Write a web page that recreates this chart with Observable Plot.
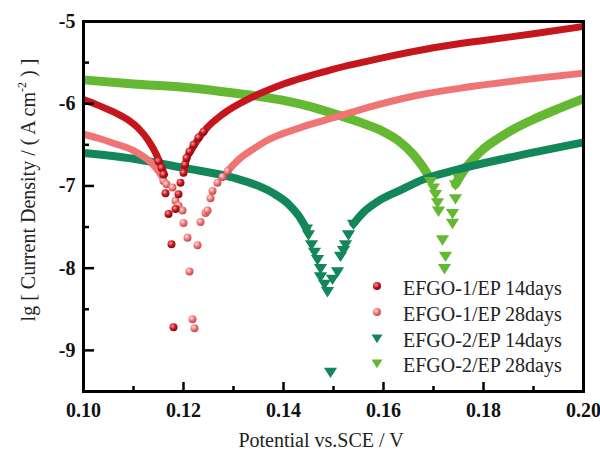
<!DOCTYPE html>
<html><head><meta charset="utf-8">
<script src="https://cdn.jsdelivr.net/npm/d3@7"></script>
<script src="https://cdn.jsdelivr.net/npm/@observablehq/plot@0.6"></script>
<style>
body{margin:0;background:#fff}
#chart{width:600px;height:457px}
svg text{font-family:"Liberation Serif","Times New Roman",serif;}
</style></head><body><div id="chart"></div>
<script>
// ---- tick values ----
const xMajor = [0.10, 0.12, 0.14, 0.16, 0.18, 0.20];
const xMinor = [0.11, 0.13, 0.15, 0.17, 0.19];
const yMajor = [-5, -6, -7, -8, -9];
const yMinor = [-5.5, -6.5, -7.5, -8.5];

// ---- series names & colours ----
const seriesNames = ["EFGO-1/EP 14days", "EFGO-1/EP 28days", "EFGO-2/EP 14days", "EFGO-2/EP 28days"];
const seriesColors = ["#c6161d", "#f07474", "#13875a", "#64b832"];

// ---- EFGO-1/EP 14days  [V, lg i] ----
const a14Left  = [[0.100,-5.95],[0.103,-6.02],[0.106,-6.10],[0.109,-6.20],[0.111,-6.30],[0.113,-6.45],[0.1146,-6.62],[0.1158,-6.80],[0.1162,-6.86]];
const a14Dip   = [[0.1150,-6.70],[0.1156,-6.78],[0.1160,-6.86],[0.1164,-7.09],[0.1170,-7.34],[0.1176,-7.71],[0.1180,-8.72],[0.1184,-7.28],[0.1190,-7.10],[0.1194,-6.96],[0.1200,-6.84],[0.1203,-6.74],[0.1206,-6.66],[0.1212,-6.58],[0.1220,-6.50],[0.1230,-6.41],[0.1240,-6.34]];
const a14Right = [[0.1200,-6.84],[0.1206,-6.68],[0.1216,-6.56],[0.1226,-6.46],[0.1246,-6.30],[0.128,-6.12],[0.1334,-5.93],[0.140,-5.76],[0.150,-5.58],[0.160,-5.44],[0.170,-5.32],[0.180,-5.23],[0.190,-5.15],[0.200,-5.06]];

// ---- EFGO-1/EP 28days ----
const a28Left  = [[0.100,-6.37],[0.103,-6.42],[0.106,-6.48],[0.110,-6.57],[0.1134,-6.71],[0.115,-6.82],[0.116,-6.92]];
const a28Dip   = [[0.1160,-6.94],[0.1166,-6.98],[0.1178,-7.02],[0.1184,-7.18],[0.1190,-7.24],[0.1198,-7.30],[0.1200,-7.45],[0.1208,-7.63],[0.1212,-8.04],[0.1218,-8.62],[0.1222,-8.73],[0.1228,-7.72],[0.1234,-7.44],[0.1244,-7.33],[0.1248,-7.30],[0.1254,-7.15],[0.1258,-7.06],[0.1268,-6.96],[0.1278,-6.89],[0.1288,-6.82]];
const a28Right = [[0.1288,-6.82],[0.1314,-6.66],[0.134,-6.55],[0.1366,-6.45],[0.1434,-6.29],[0.150,-6.17],[0.1566,-6.05],[0.1666,-5.90],[0.1766,-5.80],[0.1866,-5.72],[0.200,-5.63]];

// ---- EFGO-2/EP 14days ----
const b14Left  = [[0.100,-6.60],[0.110,-6.67],[0.120,-6.78],[0.130,-6.90],[0.135,-7.00],[0.138,-7.09],[0.141,-7.22],[0.143,-7.36],[0.1446,-7.52]];
const b14Dip   = [[0.1446,-7.52],[0.1450,-7.59],[0.1456,-7.71],[0.1462,-7.80],[0.1468,-7.89],[0.1474,-8.00],[0.1474,-8.10],[0.1482,-8.19],[0.1488,-8.28],[0.1494,-9.26],[0.1498,-8.13],[0.1508,-8.04],[0.1514,-7.85],[0.1520,-7.78],[0.1524,-7.71],[0.1530,-7.59],[0.1540,-7.46]];
const b14Right = [[0.1540,-7.46],[0.1560,-7.32],[0.1588,-7.19],[0.1634,-7.05],[0.168,-6.92],[0.1748,-6.80],[0.1848,-6.66],[0.200,-6.47]];

// ---- EFGO-2/EP 28days ----
const b28Left  = [[0.100,-5.71],[0.110,-5.76],[0.120,-5.80],[0.130,-5.87],[0.140,-5.96],[0.145,-6.03],[0.150,-6.12],[0.155,-6.22],[0.160,-6.34],[0.163,-6.45],[0.166,-6.62],[0.168,-6.78],[0.1694,-6.92]];
const b28Dip   = [[0.1694,-6.94],[0.1700,-7.02],[0.1704,-7.10],[0.1708,-7.20],[0.1710,-7.30],[0.1718,-7.65],[0.1724,-7.85],[0.1722,-8.00],[0.1738,-7.45],[0.1738,-7.33],[0.1744,-7.15],[0.1744,-6.98],[0.1750,-6.90]];
const b28Right = [[0.1744,-6.98],[0.176,-6.82],[0.178,-6.67],[0.180,-6.55],[0.183,-6.42],[0.186,-6.31],[0.190,-6.19],[0.195,-6.06],[0.200,-5.94]];

const downTriangle = {
  draw(ctx, size) {
    const s = Math.sqrt(size) * 0.62;
    ctx.moveTo(-s, -s * 0.62);
    ctx.lineTo(s, -s * 0.62);
    ctx.lineTo(0, s * 0.95);
    ctx.closePath();
  }
};

const W = 600, H = 457;
const FONT = "'Liberation Serif','Times New Roman',serif";
const lineOpts = (c, w) => ({x: d => d[0], y: d => d[1], stroke: c, strokeWidth: w, curve: "monotone-x", strokeLinecap: "round", clip: true});
const ball = (fill) => ({x: d => d[0], y: d => d[1], r: 4, fill, stroke: "none"});
const tri = (c) => ({x: d => d[0], y: d => d[1], r: 6, symbol: downTriangle, fill: c, stroke: "none"});

const chart = Plot.plot({
  width: W, height: H,
  marginLeft: 83, marginRight: 17, marginTop: 21, marginBottom: 66,
  x: {domain: [0.10, 0.20]},
  y: {domain: [-9.5, -5]},
  style: {fontFamily: FONT, background: "#fff"},
  marks: [
    Plot.line(b28Left, lineOpts(seriesColors[3], 9)),
    Plot.line(b28Right, lineOpts(seriesColors[3], 9)),
    Plot.line(b14Left, lineOpts(seriesColors[2], 8)),
    Plot.line(b14Right, lineOpts(seriesColors[2], 8)),
    Plot.line(a28Left, lineOpts(seriesColors[1], 7)),
    Plot.line(a28Right, lineOpts(seriesColors[1], 7)),
    Plot.line(a14Left, lineOpts(seriesColors[0], 7)),
    Plot.line(a14Right, lineOpts(seriesColors[0], 7)),
    Plot.dot(b28Dip, tri(seriesColors[3])),
    Plot.dot(b14Dip, tri(seriesColors[2])),
    Plot.dot(a28Dip, ball("url(#gSalmon)")),
    Plot.dot(a14Dip, ball("url(#gRed)")),
    Plot.tickX(xMajor, {x: d => d, insetTop: 361, stroke: "#000", strokeWidth: 2.5}),
    Plot.tickX(xMinor, {x: d => d, insetTop: 365, stroke: "#000", strokeWidth: 2.5}),
    Plot.tickY(yMajor, {y: d => d, insetRight: 489, stroke: "#000", strokeWidth: 2.5}),
    Plot.tickY(yMinor, {y: d => d, insetRight: 494, stroke: "#000", strokeWidth: 2.5}),
    Plot.axisX({ticks: xMajor, tickSize: 0, tickPadding: 11, tickFormat: d3.format(".2f"), label: null, fontWeight: "bold", fontSize: 20}),
    Plot.axisY({ticks: yMajor, tickSize: 0, tickPadding: 8, tickFormat: d => String(d), label: null, fontWeight: "bold", fontSize: 20}),
    Plot.frame({stroke: "#000", strokeWidth: 3})
  ]
});

const svg = d3.select(chart);
svg.selectAll('[aria-label$="tick label"]').attr("font-weight", "bold").attr("font-size", 20).attr("fill", "#111").attr("font-family", FONT);

const defs = svg.insert("defs", ":first-child");
const grad = (id, hi, mid, lo) => {
  const g = defs.append("radialGradient").attr("id", id).attr("cx", "38%").attr("cy", "35%").attr("r", "65%");
  g.append("stop").attr("offset", "0%").attr("stop-color", hi);
  g.append("stop").attr("offset", "55%").attr("stop-color", mid);
  g.append("stop").attr("offset", "100%").attr("stop-color", lo);
};
grad("gRed", "#ff9a9a", "#c6161d", "#7d0b10");
grad("gSalmon", "#ffe0e0", "#f07474", "#c44a4a");

svg.append("text").attr("x", 321).attr("y", 447).attr("text-anchor", "middle").attr("font-family", FONT)
  .attr("font-size", 20).attr("fill", "#222").text("Potential vs.SCE / V");
const yt = svg.append("text").attr("transform", "translate(35,190) rotate(-90)").attr("font-family", FONT)
  .attr("text-anchor", "middle").attr("font-size", 20).attr("fill", "#222");
yt.append("tspan").text("lg [ Current Density / ( A cm");
yt.append("tspan").attr("font-size", 12).attr("dy", -9).text("-2");
yt.append("tspan").attr("dy", 9).text(" ) ]");

const legY = [286, 312, 338, 363];
const leg = svg.append("g");
seriesNames.forEach((name, i) => {
  const cy = legY[i];
  if (i < 2) {
    leg.append("circle").attr("cx", 377).attr("cy", cy).attr("r", 4)
      .attr("fill", i === 0 ? "url(#gRed)" : "url(#gSalmon)");
  } else {
    leg.append("path").attr("transform", `translate(377,${cy})`)
      .attr("d", d3.symbol(downTriangle, Math.PI * 25)())
      .attr("fill", seriesColors[i]);
  }
  leg.append("text").attr("x", 403).attr("y", cy + 9).attr("text-anchor", "start").attr("font-family", FONT)
    .attr("font-size", 20).attr("fill", "#222").text(name);
});

document.getElementById("chart").appendChild(chart);
</script>
</body></html>
